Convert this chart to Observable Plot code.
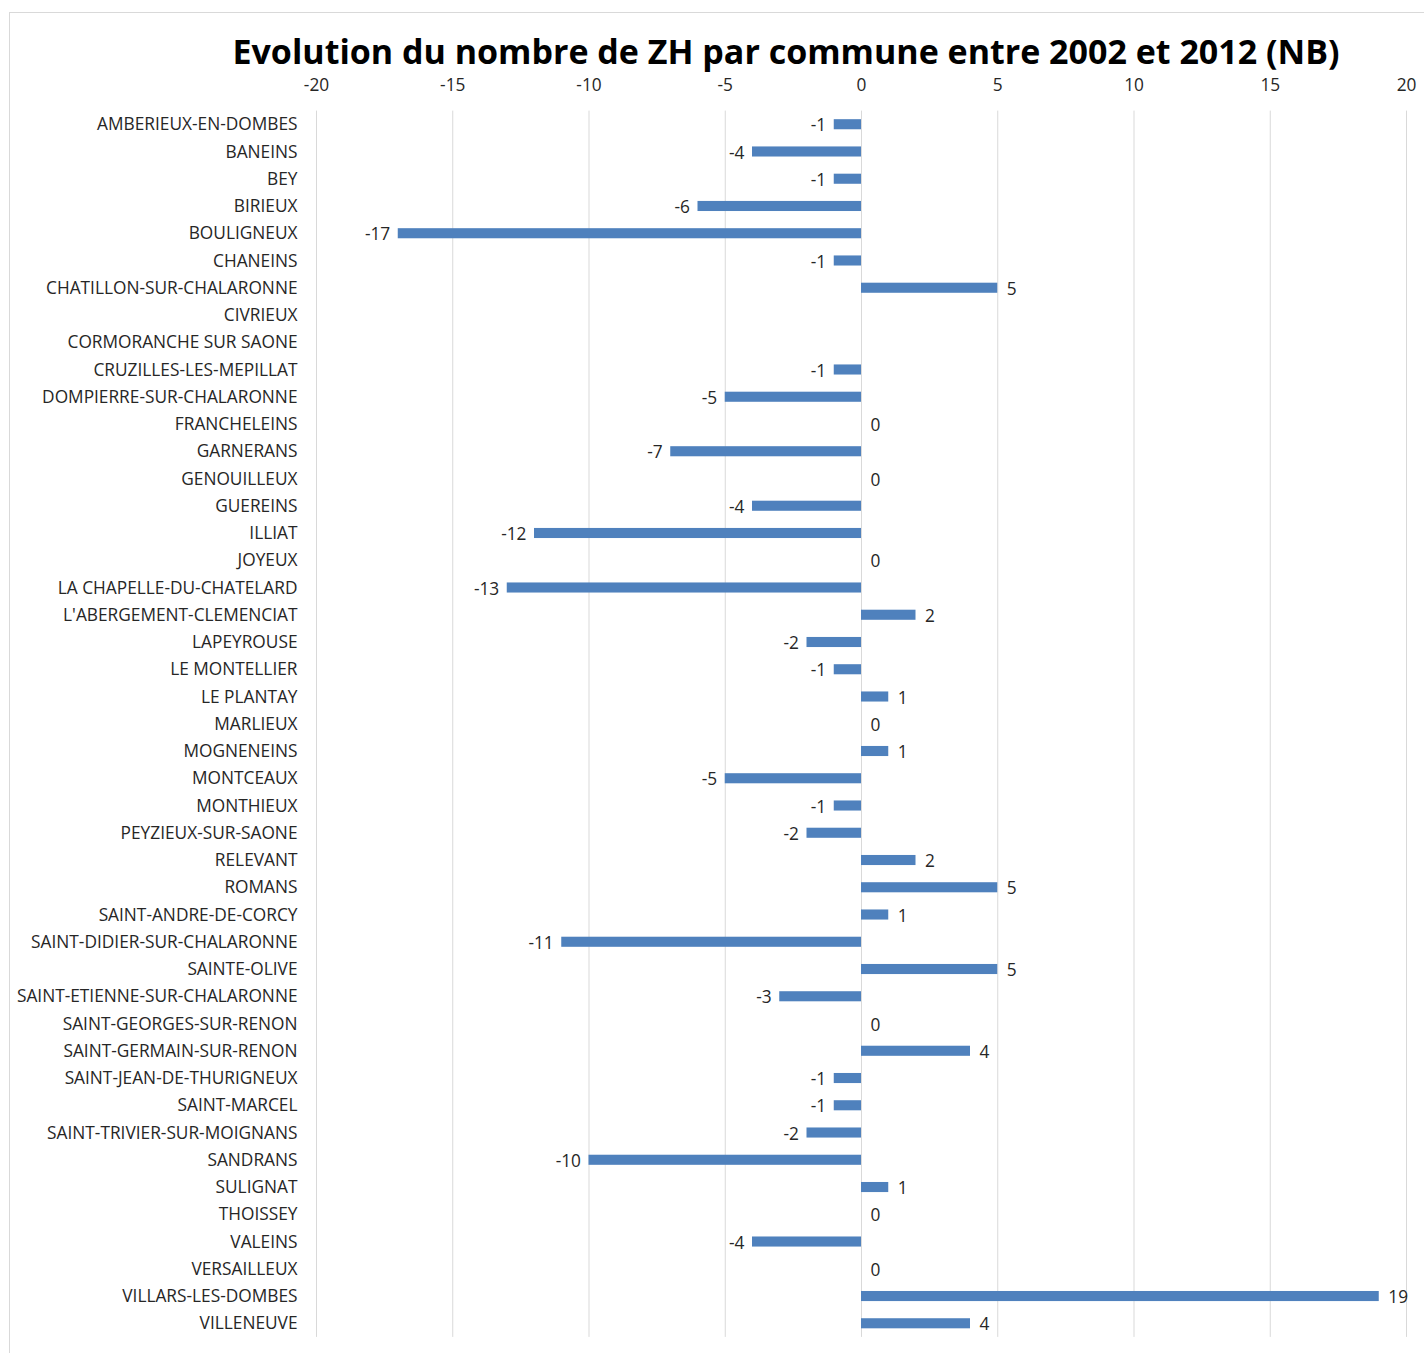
<!DOCTYPE html>
<html>
<head>
<meta charset="utf-8">
<script src="https://cdn.jsdelivr.net/npm/d3@7"></script>
<script src="https://cdn.jsdelivr.net/npm/@observablehq/plot@0.6"></script>
<style>
  html, body { margin: 0; padding: 0; background: #fff; }
  #wrap { position: relative; width: 1424px; height: 1353px; overflow: hidden; background: #fff; }
  #frame { position: absolute; left: 9px; top: 12px; width: 1600px; height: 1600px; border: 1px solid #d9d9d9; box-sizing: border-box; }
  #title { position: absolute; left: 0; width: 1572px; top: 31px; text-align: center; font-family: "Open Sans", sans-serif; font-weight: 700; font-size: 34px; color: #000; line-height: 1.2; white-space: nowrap; }
  #chart { position: absolute; left: 0; top: 70px; }
  #chart svg { background: none !important; }
</style>
</head>
<body>
<div id="wrap">
  <div id="frame"></div>
  <div id="title">Evolution du nombre de ZH par commune entre 2002 et 2012 (NB)</div>
  <div id="chart"></div>
</div>
<script>
const communes = [
  "AMBERIEUX-EN-DOMBES", "BANEINS", "BEY", "BIRIEUX", "BOULIGNEUX", "CHANEINS",
  "CHATILLON-SUR-CHALARONNE", "CIVRIEUX", "CORMORANCHE SUR SAONE", "CRUZILLES-LES-MEPILLAT",
  "DOMPIERRE-SUR-CHALARONNE", "FRANCHELEINS", "GARNERANS", "GENOUILLEUX", "GUEREINS",
  "ILLIAT", "JOYEUX", "LA CHAPELLE-DU-CHATELARD", "L'ABERGEMENT-CLEMENCIAT", "LAPEYROUSE",
  "LE MONTELLIER", "LE PLANTAY", "MARLIEUX", "MOGNENEINS", "MONTCEAUX", "MONTHIEUX",
  "PEYZIEUX-SUR-SAONE", "RELEVANT", "ROMANS", "SAINT-ANDRE-DE-CORCY",
  "SAINT-DIDIER-SUR-CHALARONNE", "SAINTE-OLIVE", "SAINT-ETIENNE-SUR-CHALARONNE",
  "SAINT-GEORGES-SUR-RENON", "SAINT-GERMAIN-SUR-RENON", "SAINT-JEAN-DE-THURIGNEUX",
  "SAINT-MARCEL", "SAINT-TRIVIER-SUR-MOIGNANS", "SANDRANS", "SULIGNAT", "THOISSEY",
  "VALEINS", "VERSAILLEUX", "VILLARS-LES-DOMBES", "VILLENEUVE"
];
const evolution = [
  -1, -4, -1, -6, -17, -1,
  5, null, null, -1,
  -5, 0, -7, 0, -4,
  -12, 0, -13, 2, -2,
  -1, 1, 0, 1, -5, -1,
  -2, 2, 5, 1,
  -11, 5, -3,
  0, 4, -1,
  -1, -2, -10, 1, 0,
  -4, 0, 19, 4
];
const xTicks = [-20, -15, -10, -5, 0, 5, 10, 15, 20];

const data = communes.map((c, i) => ({commune: c, value: evolution[i]}));
const withValue = data.filter(d => d.value != null);
const negatives = withValue.filter(d => d.value < 0);
const nonNegatives = withValue.filter(d => d.value >= 0);

const chart = Plot.plot({
  width: 1424,
  height: 1283,
  marginTop: 40.6,
  marginBottom: 16.1,
  marginLeft: 316,
  marginRight: 18,
  style: {fontFamily: "'Open Sans', sans-serif", fontSize: "17.3px", color: "#262626", background: "none"},
  x: {domain: [-20, 20], axis: "top", ticks: xTicks, tickFormat: d => String(d), tickSize: 0, tickPadding: 20, label: null},
  y: {domain: communes, paddingInner: 0.63, paddingOuter: 0.315, round: false, tickSize: 0, tickPadding: 19, label: null},
  marks: [
    Plot.ruleX(xTicks, {stroke: "#d9d9d9", strokeWidth: 1}),
    Plot.barX(withValue, {x: "value", y: "commune", fill: "#4f81bd"}),
    Plot.text(negatives, {
      x: "value", y: "commune", text: d => String(d.value),
      textAnchor: "end", dx: -8, dy: 1, fill: "#262626", fontSize: 17.3
    }),
    Plot.text(nonNegatives, {
      x: "value", y: "commune", text: d => String(d.value),
      textAnchor: "start", dx: 9, dy: 1, fill: "#262626", fontSize: 17.3
    })
  ]
});
document.getElementById("chart").appendChild(chart);
</script>
</body>
</html>
